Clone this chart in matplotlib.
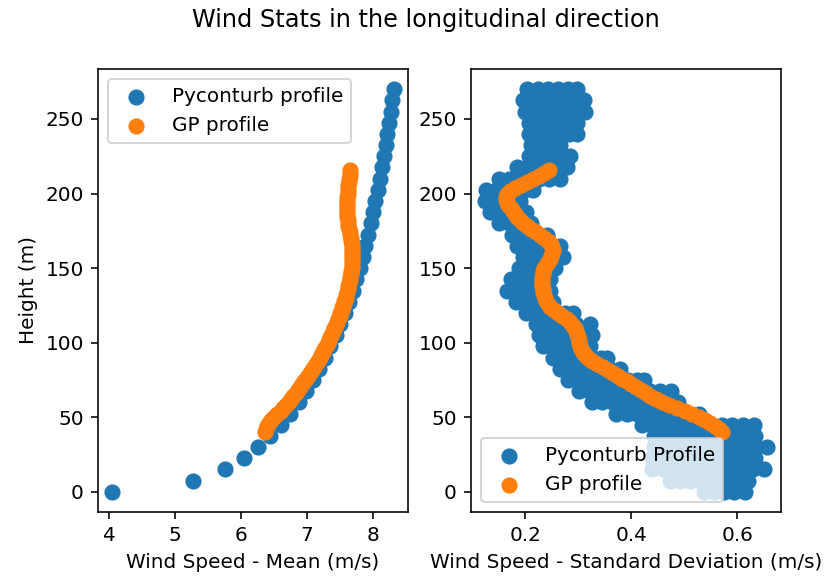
import numpy as np
import matplotlib
matplotlib.use("Agg")
import matplotlib.pyplot as plt

# Pyconturb grid heights (m)
heights = [0, 7.5, 15, 22.5, 30, 37.5, 45, 52.5, 60, 67.5, 75, 82.5, 90, 97.5,
           105, 112.5, 120, 127.5, 135, 142.5, 150, 157.5, 165, 172.5, 180,
           187.5, 195, 202.5, 210, 217.5, 225, 232.5, 240, 247.5, 255, 262.5, 270]

# Pyconturb mean wind speed at each height (m/s)
pyc_mean = [4.05, 5.28, 5.76, 6.04, 6.26, 6.44, 6.60, 6.74, 6.87, 6.98, 7.08,
            7.18, 7.27, 7.35, 7.43, 7.50, 7.57, 7.63, 7.69, 7.74, 7.79, 7.84,
            7.88, 7.92, 7.96, 8.00, 8.03, 8.07, 8.10, 8.13, 8.16, 8.19, 8.21,
            8.24, 8.26, 8.28, 8.31]

# Pyconturb standard deviation at every grid point, one list per height
pyc_std = [
    [0.538, 0.556, 0.575, 0.594, 0.614],
    [0.474, 0.492, 0.511, 0.530, 0.548, 0.567, 0.585, 0.603, 0.621],
    [0.440, 0.459, 0.478, 0.497, 0.516, 0.535, 0.554, 0.573, 0.592, 0.611, 0.630, 0.650],
    [0.440, 0.459, 0.478, 0.497, 0.516, 0.535, 0.554, 0.573, 0.592, 0.613, 0.634],
    [0.443, 0.462, 0.481, 0.500, 0.519, 0.538, 0.557, 0.576, 0.595, 0.614, 0.635, 0.656],
    [0.443, 0.462, 0.481, 0.500, 0.519, 0.538, 0.557, 0.576, 0.595, 0.614, 0.634],
    [0.420, 0.439, 0.458, 0.477, 0.496, 0.515, 0.534, 0.553, 0.572, 0.591, 0.611, 0.631],
    [0.372, 0.391, 0.410, 0.429, 0.448, 0.467, 0.486, 0.505, 0.527],
    [0.325, 0.344, 0.363, 0.382, 0.401, 0.420, 0.439, 0.458, 0.476, 0.488],
    [0.302, 0.321, 0.340, 0.359, 0.378, 0.397, 0.416, 0.435, 0.455, 0.475],
    [0.280, 0.299, 0.318, 0.337, 0.356, 0.375, 0.394, 0.410, 0.424],
    [0.265, 0.284, 0.303, 0.322, 0.341, 0.360, 0.379],
    [0.252, 0.271, 0.290, 0.309, 0.328, 0.342, 0.354],
    [0.233, 0.252, 0.271, 0.290, 0.309, 0.322],
    [0.226, 0.245, 0.264, 0.283, 0.302, 0.325],
    [0.220, 0.239, 0.258, 0.277, 0.296, 0.322],
    [0.201, 0.220, 0.239, 0.258, 0.275, 0.290],
    [0.182, 0.201, 0.220, 0.238, 0.253],
    [0.166, 0.185, 0.204, 0.223, 0.246],
    [0.173, 0.192, 0.211, 0.230, 0.246],
    [0.188, 0.207, 0.226, 0.243, 0.256],
    [0.195, 0.214, 0.233, 0.252, 0.272],
    [0.185, 0.204, 0.223, 0.242, 0.265],
    [0.175, 0.194, 0.213, 0.228, 0.240],
    [0.150, 0.169, 0.188, 0.200, 0.211],
    [0.134, 0.153, 0.172, 0.188, 0.202],
    [0.124, 0.143, 0.162, 0.177, 0.189],
    [0.125, 0.144, 0.163, 0.182, 0.200, 0.215],
    [0.150, 0.169, 0.188, 0.207, 0.226, 0.245, 0.265],
    [0.185, 0.204, 0.223, 0.242, 0.261, 0.278],
    [0.207, 0.226, 0.245, 0.264, 0.284],
    [0.211, 0.230, 0.249, 0.265],
    [0.207, 0.226, 0.245, 0.264, 0.283, 0.298],
    [0.207, 0.226, 0.245, 0.264, 0.283, 0.297],
    [0.200, 0.219, 0.238, 0.257, 0.276, 0.295, 0.313],
    [0.196, 0.215, 0.234, 0.253, 0.272, 0.291, 0.310],
    [0.204, 0.223, 0.242, 0.261, 0.280, 0.297],
]

# Gaussian-process profile heights (m)
gp_heights = [40, 42, 44, 46, 48, 50, 52, 54, 56, 58,
              60, 62, 64, 66, 68, 70, 72, 74, 76, 78,
              80, 82, 84, 86, 88, 90, 92, 94, 96, 98,
              100, 102, 104, 106, 108, 110, 112, 114, 116, 118,
              120, 122, 124, 126, 128, 130, 132, 134, 136, 138,
              140, 142, 144, 146, 148, 150, 152, 154, 156, 158,
              160, 162, 164, 166, 168, 170, 172, 174, 176, 178,
              180, 182, 184, 186, 188, 190, 192, 194, 196, 198,
              200, 202, 204, 206, 208, 210, 212, 214, 216]

# GP mean wind speed (m/s)
gp_mean = [6.36, 6.37, 6.39, 6.42, 6.45, 6.50, 6.55, 6.60, 6.64, 6.68,
           6.72, 6.76, 6.79, 6.83, 6.86, 6.89, 6.92, 6.95, 6.98, 7.01,
           7.04, 7.07, 7.10, 7.13, 7.16, 7.19, 7.21, 7.24, 7.26, 7.29,
           7.31, 7.33, 7.35, 7.37, 7.39, 7.41, 7.43, 7.45, 7.47, 7.49,
           7.50, 7.52, 7.53, 7.55, 7.56, 7.58, 7.59, 7.60, 7.61, 7.62,
           7.63, 7.64, 7.65, 7.66, 7.66, 7.67, 7.67, 7.67, 7.67, 7.67,
           7.67, 7.67, 7.67, 7.67, 7.66, 7.66, 7.65, 7.64, 7.63, 7.62,
           7.61, 7.61, 7.60, 7.60, 7.60, 7.60, 7.60, 7.60, 7.60, 7.60,
           7.61, 7.61, 7.62, 7.62, 7.63, 7.63, 7.64, 7.64, 7.64]

# GP standard deviation (m/s)
gp_std = [0.572, 0.566, 0.558, 0.549, 0.540, 0.528, 0.515, 0.501, 0.487, 0.472,
          0.458, 0.446, 0.436, 0.427, 0.418, 0.409, 0.400, 0.392, 0.383, 0.374,
          0.365, 0.356, 0.346, 0.336, 0.326, 0.318, 0.312, 0.308, 0.305, 0.303,
          0.302, 0.301, 0.300, 0.298, 0.296, 0.293, 0.289, 0.284, 0.278, 0.270,
          0.262, 0.254, 0.247, 0.242, 0.239, 0.237, 0.235, 0.234, 0.233, 0.232,
          0.232, 0.232, 0.232, 0.233, 0.234, 0.236, 0.239, 0.242, 0.246, 0.249,
          0.251, 0.252, 0.251, 0.248, 0.243, 0.236, 0.228, 0.220, 0.211, 0.203,
          0.196, 0.190, 0.185, 0.180, 0.176, 0.172, 0.168, 0.165, 0.164, 0.164,
          0.166, 0.171, 0.180, 0.191, 0.203, 0.215, 0.226, 0.236, 0.244]

# flatten the per-height std lists into scatter coordinates
std_x = [v for level in pyc_std for v in level]
std_z = [z for z, level in zip(heights, pyc_std) for _ in level]

marker_area = 50

dpi = 144
fig = plt.figure(figsize=(827 / dpi, 577 / dpi), dpi=dpi)
ax1 = fig.add_axes([98 / 827, 65 / 577, 310 / 827, 443 / 577])
ax2 = fig.add_axes([471 / 827, 65 / 577, 310 / 827, 443 / 577])

ax1.scatter(pyc_mean, heights, s=marker_area, label="Pyconturb profile")
ax1.scatter(gp_mean, gp_heights, s=marker_area, label="GP profile")
ax1.set_xlabel("Wind Speed - Mean (m/s)")
ax1.set_ylabel("Height (m)")
ax1.legend(loc="upper left")

ax2.scatter(std_x, std_z, s=marker_area, label="Pyconturb Profile")
ax2.scatter(gp_std, gp_heights, s=marker_area, label="GP profile")
ax2.set_xlabel("Wind Speed - Standard Deviation (m/s)")
ax2.legend(loc="lower left")

fig.suptitle("Wind Stats in the longitudinal direction", x=426 / 827, y=1 - 8 / 577, va="top")

fig.savefig("out.png", dpi=dpi)
